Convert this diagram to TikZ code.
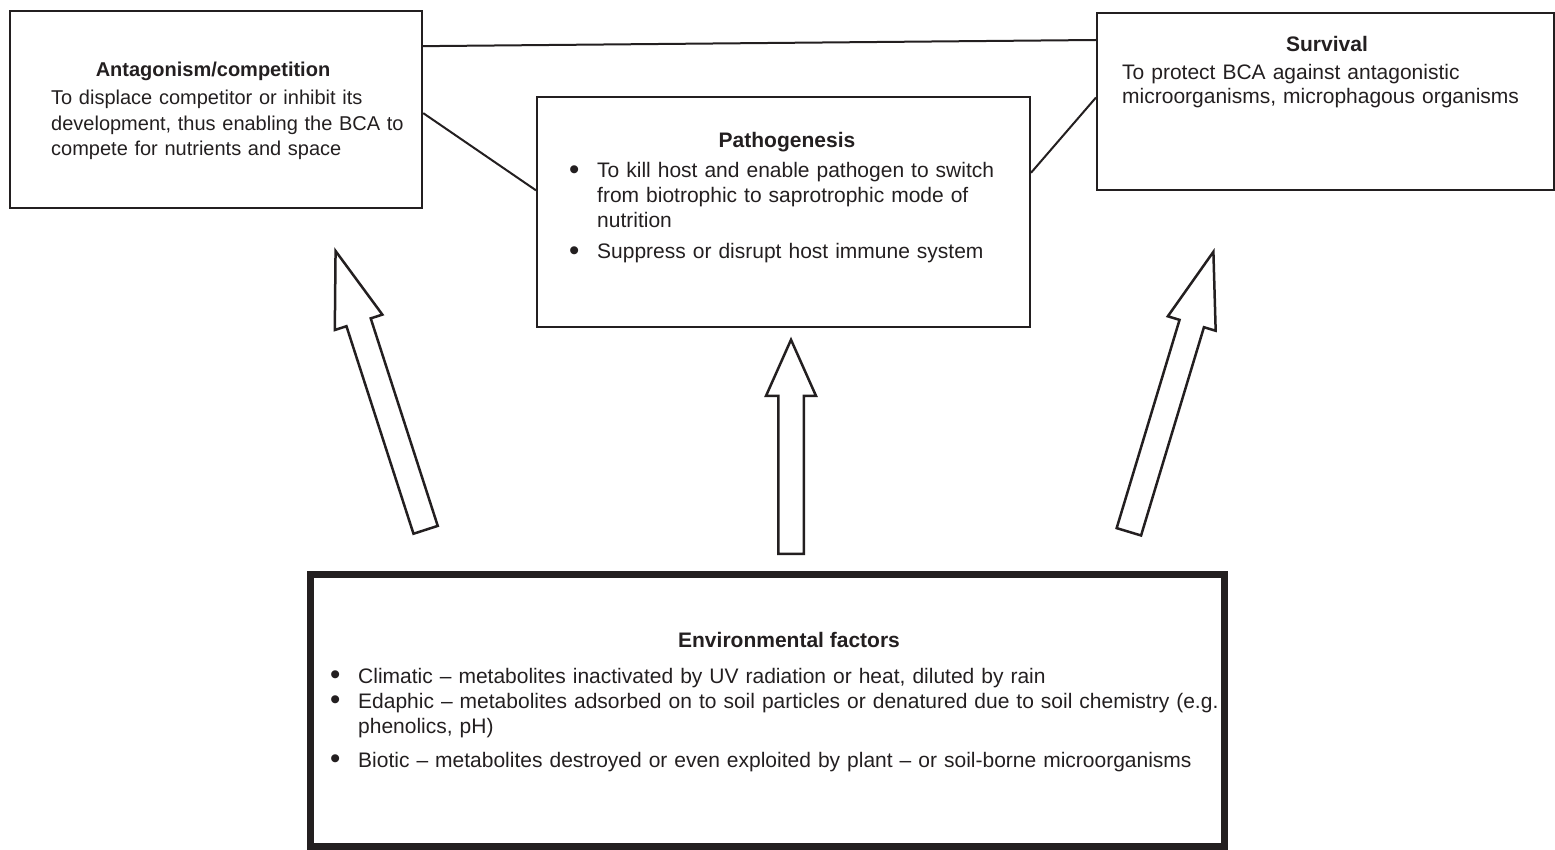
\documentclass[tikz,border=0pt]{standalone}
\usepackage{fontspec}
\usepackage{graphicx}
\setmainfont{Liberation Sans}
\usetikzlibrary{shapes.arrows, positioning}
\definecolor{Ink}{HTML}{231F20}
\newcommand{\bitem}[1]{\hangindent=28pt\hangafter=1\noindent
  \makebox[28pt][l]{\smash{\raisebox{-1.5pt}{\scalebox{1.4}{\textbullet}}}}#1\par}
\tikzset{
  tbox/.style={draw=Ink, line width=2.4pt, rectangle, inner sep=0pt},
  ebox/.style={draw=Ink, line width=7pt, rectangle, inner sep=0pt},
  head/.style={font=\fontsize{21}{25}\selectfont\bfseries, text=Ink, inner sep=0pt, anchor=base},
  body/.style={font=\fontsize{21}{25}\selectfont, text=Ink, inner sep=0pt, align=left, anchor=base west},
  link/.style={draw=Ink, line width=2pt},
  fat/.style={draw=Ink, single arrow, line width=2.5pt, inner xsep=0pt, inner ysep=11.5pt,
    single arrow head extend=12.25pt, anchor=tail},
}

\begin{document}
\begin{tikzpicture}[x=1pt, y=-1pt]
  \useasboundingbox (0,0) rectangle (1555,850);
  % boxes
  \node[tbox, minimum width=412pt, minimum height=197pt] (antag) at (216,109.5) {};
  \node[tbox, minimum width=492.6pt, minimum height=229.6pt] (patho) at (783.5,212) {};
  \node[tbox, minimum width=456.6pt, minimum height=176.6pt] (surv) at (1325.5,101.5) {};
  \node[ebox, minimum width=914pt, minimum height=272pt] (env) at (767.5,710.5) {};

  % texts
  \node[head, font=\fontsize{20}{25}\selectfont\bfseries] (antagT) at (213,77) {Antagonism/competition};
  \node[body, font=\fontsize{20}{25.5}\selectfont, text width=360pt] (antagB) at (51,105)
    {To displace competitor or inhibit its\\ development, thus enabling the BCA to\\ compete for nutrients and space};
  \node[head] (pathoT) at (787,148) {Pathogenesis};
  \node[body, text width=440pt] (pathoB) at (569,178)
    {\bitem{To kill host and enable pathogen to switch\newline from biotrophic to saprotrophic mode of\newline nutrition}
     \vspace{6pt}\bitem{Suppress or disrupt host immune system}};
  \node[head] (survT) at (1327,52) {Survival};
  \node[body, font=\fontsize{21}{23.5}\selectfont, text width=420pt] (survB) at (1122,80)
    {To protect BCA against antagonistic\\ microorganisms, microphagous organisms};
  \node[head] (envT) at (789,647) {Environmental factors};
  \node[body, text width=950pt] (envB) at (330,683)
    {\bitem{Climatic -- metabolites inactivated by UV radiation or heat, diluted by rain}
     \bitem{Edaphic -- metabolites adsorbed on to soil particles or denatured due to soil chemistry (e.g.\newline phenolics, pH)}
     \vspace{9pt}\bitem{Biotic -- metabolites destroyed or even exploited by plant -- or soil-borne microorganisms}};

  % links between boxes
  \draw[link] (antag.17) -- (surv.165.6);
  \draw[link] (antag.-1.5) -- (patho.175.8);
  \draw[link] (patho.9.9) -- (surv.179.6);

  % block arrows
  \node[fat, minimum height=293pt, rotate=107.9, single arrow tip angle=36.9] (toantag) at (426,531) {};
  \node[fat, minimum height=214pt, rotate=90, single arrow tip angle=48] (topatho) at (791,555) {};
  \node[fat, minimum height=292.5pt, rotate=73.2, single arrow tip angle=36.9] (tosurv) at (1128.5,533) {};
\end{tikzpicture}
\end{document}
